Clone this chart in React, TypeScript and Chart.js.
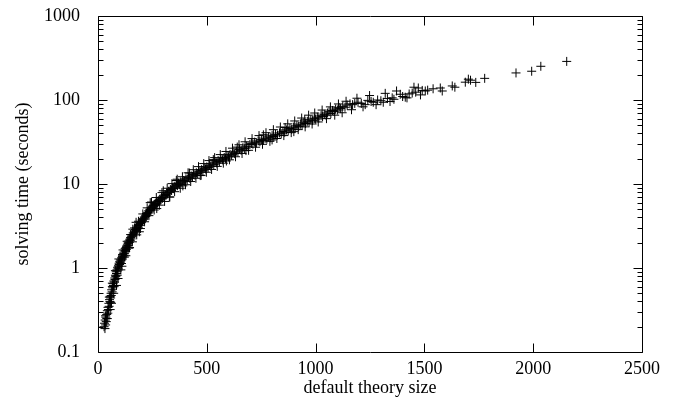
import React, { useEffect, useRef } from "react";
import { Chart, registerables } from "chart.js";

Chart.register(...registerables);

// default theory size (x) and solving time in seconds (y)
const theorySize = [
  28, 30, 32, 33, 35, 36, 38, 40, 41, 43,
  45, 46, 48, 50, 51, 53, 55, 56, 58, 60,
  61, 63, 65, 66, 68, 70, 71, 73, 75, 77,
  78, 80, 82, 84, 85, 87, 89, 90, 92, 94,
  95, 97, 99, 100, 102, 62, 72, 85, 92, 105,
  56, 110,
  104, 106, 108, 110, 112, 113, 115, 117, 118, 120,
  122, 124, 125, 127, 129, 130, 132, 134, 135, 137,
  139, 140, 142, 144, 146, 148, 150, 152, 154, 156,
  158, 160, 162, 165, 167, 170, 172, 175, 177, 180,
  183, 185, 188, 190, 193, 196, 198, 200, 128, 145,
  160, 175, 190,
  203, 205, 208, 210, 213, 215, 218, 220, 223, 225,
  228, 230, 233, 236, 238, 240, 244, 247, 250, 253,
  256, 260, 263, 266, 270, 273, 277, 280, 284, 288,
  292, 296, 300, 304, 308, 312, 316, 320, 325, 330,
  334, 338, 342, 346, 350, 355, 360, 365, 370, 375,
  380, 386, 392, 398, 240, 270, 300, 330, 360, 390,
  404, 410, 416, 422, 428, 434, 440, 446, 452, 458,
  464, 470, 476, 482, 488, 494, 500, 506, 512, 518,
  525, 532, 538, 545, 552, 558, 565, 572, 580, 586,
  593, 600, 607, 614, 621, 628, 636, 643, 650, 658,
  666, 674, 682, 690, 698, 420, 470, 530, 590, 640,
  680,
  705, 712, 720, 728, 736, 744, 752, 760, 768, 776,
  784, 792, 800, 808, 816, 825, 834, 842, 850, 858,
  866, 874, 882, 890, 898, 906, 914, 922, 930, 938,
  946, 954, 962, 970, 978, 986, 994, 1000, 760, 800,
  860, 900, 950,
  1008, 1015, 1025, 1032, 1040, 1048, 1055, 1062, 1070, 1078,
  1085, 1092, 1100, 1108, 1115, 1125, 1135, 1145, 1158, 1170,
  1180, 1195, 1210, 1228, 1240, 1255, 1265, 1285, 1300, 1311,
  1330, 1352, 1360, 1389, 1400, 1412, 1430, 1444, 1460, 1472,
  1490, 1504, 1515,
  1540, 1573, 1582, 1628, 1640, 1688, 1702, 1712, 1736, 1777,
  1921, 1993, 2035, 2154,
  35, 42, 52, 58, 66, 74, 80, 88, 96, 108,
  115, 122, 134, 142, 150, 158, 168, 178, 186, 195,
  206, 214, 226, 234, 246, 258, 268, 282, 294, 306,
  318, 328, 340, 352, 364, 378, 388, 402, 414, 426,
  438, 450, 462, 474, 486, 498, 510, 522, 536, 548,
  562, 576, 588, 604, 618, 632, 648, 662, 676, 692,
  708, 724, 740, 756, 772, 790, 806, 822, 838, 854,
  872, 888, 904, 920, 936, 952, 968, 984, 996, 1012,
  1030, 1050, 1068, 1088, 1105, 1122, 1140, 1165, 1190, 1218,
  1248, 1278, 1320, 1342, 1372, 1420, 1452, 1482,
];

const solvingTime = [
  0.2, 0.22, 0.19, 0.24, 0.21, 0.26, 0.23, 0.28, 0.25, 0.31,
  0.29, 0.34, 0.32, 0.38, 0.35, 0.42, 0.4, 0.46, 0.44, 0.5,
  0.47, 0.55, 0.52, 0.6, 0.58, 0.65, 0.62, 0.7, 0.68, 0.76,
  0.73, 0.82, 0.79, 0.9, 0.86, 0.95, 0.92, 1.02, 0.98, 1.08,
  1.05, 1.14, 1.1, 1.2, 1.16, 0.38, 0.5, 0.62, 0.75, 0.95,
  0.32, 1.05,
  1.25, 1.22, 1.32, 1.28, 1.38, 1.45, 1.35, 1.5, 1.42, 1.55,
  1.48, 1.62, 1.7, 1.58, 1.75, 1.66, 1.82, 1.78, 1.92, 1.85,
  2.0, 1.95, 2.1, 2.02, 2.2, 2.12, 2.3, 2.22, 2.4, 2.35,
  2.5, 2.42, 2.62, 2.55, 2.75, 2.68, 2.88, 2.8, 3.0, 2.92,
  3.15, 3.05, 3.3, 3.2, 3.45, 3.38, 3.6, 3.5, 1.4, 1.75,
  2.9, 3.5, 2.7,
  3.75, 3.65, 3.9, 3.8, 4.05, 3.95, 4.25, 4.1, 4.45, 4.3,
  4.6, 4.5, 4.8, 4.65, 5.0, 4.85, 5.2, 5.05, 5.45, 5.3,
  5.6, 5.5, 5.85, 5.7, 6.1, 5.95, 6.35, 6.2, 6.6, 6.45,
  6.9, 6.75, 7.2, 7.0, 7.5, 7.3, 7.8, 7.6, 8.2, 7.95,
  8.6, 8.4, 9.0, 8.8, 9.4, 9.2, 9.8, 9.55, 10.2, 9.9,
  10.6, 10.3, 11.0, 10.8, 6.0, 5.1, 8.3, 7.0, 11.0, 9.5,
  11.5, 11.2, 12.0, 11.7, 12.5, 12.2, 13.0, 12.7, 13.6, 13.3,
  14.2, 13.9, 14.8, 14.5, 15.4, 15.1, 16.0, 15.7, 16.7, 16.3,
  17.4, 17.0, 18.2, 17.8, 19.0, 18.5, 19.8, 19.4, 20.7, 20.2,
  21.6, 21.1, 22.5, 22.0, 23.5, 23.0, 24.6, 24.0, 25.8, 25.2,
  27.0, 26.4, 28.2, 27.6, 29.5, 13.5, 12.6, 19.5, 18.8, 27.5,
  25.0,
  30.5, 29.8, 31.5, 30.8, 32.6, 31.9, 33.8, 33.0, 35.0, 34.2,
  36.3, 35.5, 37.6, 36.8, 39.0, 38.2, 40.6, 39.7, 42.2, 41.3,
  44.0, 43.0, 45.8, 44.8, 47.6, 46.6, 49.5, 48.5, 51.5, 50.4,
  53.6, 52.5, 55.8, 54.6, 58.0, 56.8, 60.5, 59.2, 38.5, 33.5,
  47.0, 42.0, 58.0,
  62.5, 61.0, 65.0, 63.5, 67.5, 66.0, 70.0, 72.5, 69.0, 75.0,
  73.0, 78.0, 76.0, 81.0, 79.0, 84.0, 82.0, 87.0, 90.0, 88.0,
  91.0, 94.0, 91.0, 88.0, 99.0, 96.0, 94.0, 100, 98.0, 94.0,
  104, 106, 102, 117, 110, 108, 118, 121, 124, 139,
  130, 128, 131,
  136, 139, 128, 147, 142, 163, 177, 172, 162, 181,
  210, 220, 252, 288,
  0.27, 0.25, 0.45, 0.39, 0.66, 0.6, 0.93, 0.82, 1.28, 1.13,
  1.64, 1.35, 2.08, 1.72, 2.5, 2.05, 3.0, 2.48, 3.6, 2.95,
  4.4, 3.55, 5.2, 4.2, 6.1, 4.9, 6.9, 5.6, 7.9, 6.2,
  8.9, 7.0, 10.1, 8.1, 11.4, 8.9, 12.2, 9.8, 13.6, 10.7,
  14.8, 11.7, 16.1, 12.7, 17.5, 13.8, 19.0, 14.9, 20.6, 16.2,
  22.4, 17.7, 24.4, 19.4, 26.7, 21.1, 29.3, 23.1, 31.8, 25.2,
  34.7, 27.4, 37.7, 29.7, 40.8, 32.2, 44.3, 34.8, 47.7, 37.7,
  52.0, 40.9, 56.3, 44.4, 61.0, 47.9, 66.0, 51.8, 70.0, 54.8,
  75.9, 60.0, 82.8, 66.0, 89.7, 70.5, 96.6, 76.6, 105, 83.0,
  113, 88.0, 120, 96.0, 128, 106, 142, 115,
];

const xTickValues = [0, 500, 1000, 1500, 2000, 2500];
const xTickLabels = ["0", "500", "1000", "1500", "2000", "2500"];
const yTickValues = [0.1, 1, 10, 100, 1000];
const yTickLabels = ["0.1", "1", "10", "100", "1000"];
const xTitle = "default theory size";
const yTitle = "solving time (seconds)";

const FONT = { family: "'Liberation Serif', 'Times New Roman', serif", size: 18 };
const TITLE_FONT = { family: "'Liberation Serif', 'Times New Roman', serif", size: 18, lineHeight: 1 };

const framePlugin = {
  id: "gnuplotFrame",
  afterDraw(chart: any) {
    const { ctx, chartArea } = chart;
    const { left, right, top, bottom } = chartArea;
    const xs = chart.scales.x;
    const ys = chart.scales.y;
    const L = Math.round(left) + 0.5;
    const R = Math.round(right) + 0.5;
    const T = Math.round(top) + 0.5;
    const B = Math.round(bottom) + 0.5;
    const major = 9;
    const minor = 5;
    ctx.save();
    ctx.strokeStyle = "#000";
    ctx.lineWidth = 1;
    ctx.beginPath();
    ctx.rect(L, T, R - L, B - T);
    ctx.stroke();
    ctx.beginPath();
    for (const v of xTickValues) {
      const px = Math.round(xs.getPixelForValue(v)) + 0.5;
      ctx.moveTo(px, B);
      ctx.lineTo(px, B - major);
      ctx.moveTo(px, T);
      ctx.lineTo(px, T + major);
    }
    for (let i = 0; i < yTickValues.length; i++) {
      const d = yTickValues[i];
      const py = Math.round(ys.getPixelForValue(d)) + 0.5;
      ctx.moveTo(L, py);
      ctx.lineTo(L + major, py);
      ctx.moveTo(R, py);
      ctx.lineTo(R - major, py);
      if (i < yTickValues.length - 1) {
        for (let m = 2; m <= 9; m++) {
          const pm = Math.round(ys.getPixelForValue(d * m)) + 0.5;
          ctx.moveTo(L, pm);
          ctx.lineTo(L + minor, pm);
          ctx.moveTo(R, pm);
          ctx.lineTo(R - minor, pm);
        }
      }
    }
    ctx.stroke();
    ctx.restore();
  },
};

export default function App() {
  const ref = useRef<HTMLCanvasElement | null>(null);
  useEffect(() => {
    if (!ref.current) return;
    const points = theorySize.map((x, i) => ({ x, y: solvingTime[i] }));
    const chart = new Chart(ref.current, {
      type: "scatter",
      data: {
        datasets: [
          {
            data: points,
            pointStyle: "cross",
            radius: 4.5,
            borderWidth: 1,
            borderColor: "#000",
            backgroundColor: "#000",
          },
        ],
      },
      options: {
        animation: false,
        responsive: false,
        maintainAspectRatio: false,
        events: [],
        layout: { padding: { top: 16, right: 37, left: 0, bottom: 0 } },
        plugins: { legend: { display: false }, tooltip: { enabled: false } },
        scales: {
          x: {
            type: "linear",
            min: 0,
            max: 2500,
            afterBuildTicks: (s: any) => {
              s.ticks = xTickValues.map((value) => ({ value }));
            },
            afterFit: (s: any) => {
              s.height = 45;
              s.paddingLeft = 0;
              s.paddingRight = 0;
            },
            ticks: {
              autoSkip: false,
              maxRotation: 0,
              padding: 6,
              color: "#000",
              font: FONT,
              callback: (v: any) => {
                const i = xTickValues.indexOf(Number(v));
                return i >= 0 ? xTickLabels[i] : "";
              },
            },
            grid: { display: false, drawTicks: false },
            border: { display: false },
            title: { display: true, text: xTitle, color: "#000", font: TITLE_FONT, padding: { top: 0, bottom: 0 } },
          },
          y: {
            type: "logarithmic",
            min: 0.1,
            max: 1000,
            afterBuildTicks: (s: any) => {
              s.ticks = yTickValues.map((value) => ({ value }));
            },
            afterFit: (s: any) => {
              s.width = 98;
              s.paddingTop = 0;
              s.paddingBottom = 0;
            },
            ticks: {
              autoSkip: false,
              padding: 18,
              color: "#000",
              font: FONT,
              callback: (v: any) => {
                const i = yTickValues.findIndex((t) => Math.abs(t - Number(v)) < 1e-9 * Math.max(1, t));
                return i >= 0 ? yTickLabels[i] : "";
              },
            },
            grid: { display: false, drawTicks: false },
            border: { display: false },
            title: { display: true, text: yTitle, color: "#000", font: TITLE_FONT, padding: { top: 14, bottom: 2 } },
          },
        },
      },
      plugins: [framePlugin],
    } as any);
    return () => chart.destroy();
  }, []);
  return (
    <div style={{ position: "fixed", left: 0, top: 0, width: 679, height: 397, background: "#fff" }}>
      <canvas ref={ref} width={679} height={397} style={{ width: 679, height: 397 }} />
    </div>
  );
}
